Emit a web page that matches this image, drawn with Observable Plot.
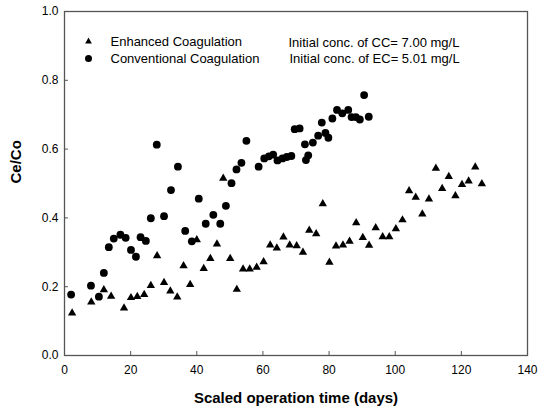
<!DOCTYPE html>
<html><head><meta charset="utf-8">
<script src="https://cdn.jsdelivr.net/npm/d3@7"></script>
<script src="https://cdn.jsdelivr.net/npm/@observablehq/plot@0.6"></script>
<style>body{margin:0;background:#fff}</style>
</head><body><div id="chart"></div>
<script>
// Enhanced Coagulation (triangles)
const enhancedX = [2.3, 8.1, 11.9, 14.1, 18.0, 20.1, 22.0, 24.1, 26.1, 28.0, 30.1, 32.0, 34.1, 36.0, 38.0, 40.0, 42.1, 44.1, 46.1, 48.0, 50.1, 52.1, 54.0, 56.0, 58.1, 60.2, 62.2, 64.2, 66.2, 68.1, 70.2, 72.1, 74.0, 76.1, 78.1, 80.1, 82.1, 84.2, 86.2, 88.2, 90.2, 92.1, 94.1, 96.2, 98.2, 100.2, 102.2, 104.2, 106.2, 108.2, 110.2, 112.3, 114.2, 116.2, 118.2, 120.2, 122.2, 124.2, 126.2];
const enhancedY = [0.123, 0.155, 0.191, 0.172, 0.138, 0.168, 0.171, 0.177, 0.203, 0.290, 0.212, 0.187, 0.170, 0.261, 0.206, 0.336, 0.253, 0.282, 0.324, 0.515, 0.282, 0.192, 0.251, 0.251, 0.256, 0.272, 0.321, 0.312, 0.344, 0.321, 0.319, 0.300, 0.364, 0.354, 0.441, 0.271, 0.318, 0.321, 0.332, 0.386, 0.343, 0.320, 0.371, 0.345, 0.345, 0.368, 0.394, 0.479, 0.460, 0.411, 0.455, 0.544, 0.485, 0.520, 0.464, 0.497, 0.507, 0.548, 0.499];
// Conventional Coagulation (circles)
const conventionalX = [2.0, 8.0, 10.4, 11.9, 13.4, 14.9, 16.9, 18.5, 20.1, 21.6, 23.0, 24.6, 26.1, 27.9, 30.1, 32.2, 34.3, 36.5, 38.5, 40.6, 42.7, 45.0, 47.1, 48.8, 50.5, 52.0, 53.5, 55.0, 58.7, 60.4, 61.8, 63.1, 64.4, 65.9, 67.2, 68.6, 69.6, 71.1, 72.7, 73.0, 73.7, 75.1, 76.7, 77.8, 78.9, 79.8, 81.0, 82.4, 84.0, 85.8, 86.8, 88.1, 89.3, 90.6, 92.0];
const conventionalY = [0.177, 0.203, 0.171, 0.240, 0.315, 0.340, 0.351, 0.342, 0.307, 0.287, 0.344, 0.333, 0.399, 0.613, 0.405, 0.481, 0.549, 0.362, 0.332, 0.456, 0.383, 0.409, 0.383, 0.435, 0.501, 0.541, 0.560, 0.624, 0.549, 0.573, 0.579, 0.584, 0.567, 0.573, 0.577, 0.580, 0.658, 0.660, 0.614, 0.568, 0.582, 0.619, 0.639, 0.677, 0.647, 0.633, 0.689, 0.714, 0.704, 0.714, 0.693, 0.693, 0.686, 0.757, 0.694];

const xTicks = [0, 20, 40, 60, 80, 100, 120, 140];
const yTicks = [0, 0.2, 0.4, 0.6, 0.8, 1.0];
const seriesNames = ["Enhanced Coagulation", "Conventional Coagulation"];
const notes = ["Initial conc. of CC= 7.00 mg/L", "Initial conc. of EC= 5.01 mg/L"];
const xLabel = "Scaled operation time (days)";
const yLabel = "Ce/Co";

const enhanced = enhancedX.map((x, i) => ({x, y: enhancedY[i]}));
const conventional = conventionalX.map((x, i) => ({x, y: conventionalY[i]}));

const chart = Plot.plot({
  width: 545,
  height: 412,
  marginLeft: 64,
  marginRight: 18,
  marginTop: 11,
  marginBottom: 57,
  style: {fontFamily: "Arial, 'Liberation Sans', sans-serif", fontSize: "12px", color: "#000", background: "#fff"},
  x: {domain: [0, 140]},
  y: {domain: [0, 1]},
  marks: [
    Plot.frame({stroke: "#555", strokeWidth: 1.3}),
    Plot.axisX(xTicks, {tickSize: -4, tickPadding: 14, label: null, stroke: "#555", fontSize: 12}),
    Plot.axisY(yTicks, {tickSize: -4, tickPadding: 10, tickFormat: ".1f", label: null, stroke: "#555", fontSize: 12}),
    Plot.dot(enhanced, {x: "x", y: "y", symbol: "triangle", r: 3.1, fill: "#000"}),
    Plot.dot(conventional, {x: "x", y: "y", symbol: "circle", r: 3.9, fill: "#000"}),
    // legend
    Plot.dot([seriesNames[0]], {frameAnchor: "top-left", dx: 24, dy: 30, symbol: "triangle", r: 2.5, fill: "#000"}),
    Plot.dot([seriesNames[1]], {frameAnchor: "top-left", dx: 24, dy: 47, symbol: "circle", r: 3.5, fill: "#000"}),
    Plot.text([seriesNames[0]], {text: d => d, frameAnchor: "top-left", dx: 46, dy: 30, textAnchor: "start", lineAnchor: "middle", fontSize: 13}),
    Plot.text([seriesNames[1]], {text: d => d, frameAnchor: "top-left", dx: 46, dy: 47, textAnchor: "start", lineAnchor: "middle", fontSize: 13}),
    Plot.text([notes[0]], {text: d => d, frameAnchor: "top-left", dx: 224, dy: 31, textAnchor: "start", lineAnchor: "middle", fontSize: 13}),
    Plot.text([notes[1]], {text: d => d, frameAnchor: "top-left", dx: 225, dy: 47, textAnchor: "start", lineAnchor: "middle", fontSize: 13}),
    // axis titles
    Plot.text([xLabel], {text: d => d, frameAnchor: "bottom", dy: 43, lineAnchor: "middle", fontSize: 15, fontWeight: "bold"}),
    Plot.text([yLabel], {text: d => d, frameAnchor: "left", dx: -48, dy: 0, rotate: -90, lineAnchor: "middle", fontSize: 15, fontWeight: "bold"})
  ]
});
document.getElementById("chart").appendChild(chart);
</script>
</body></html>
